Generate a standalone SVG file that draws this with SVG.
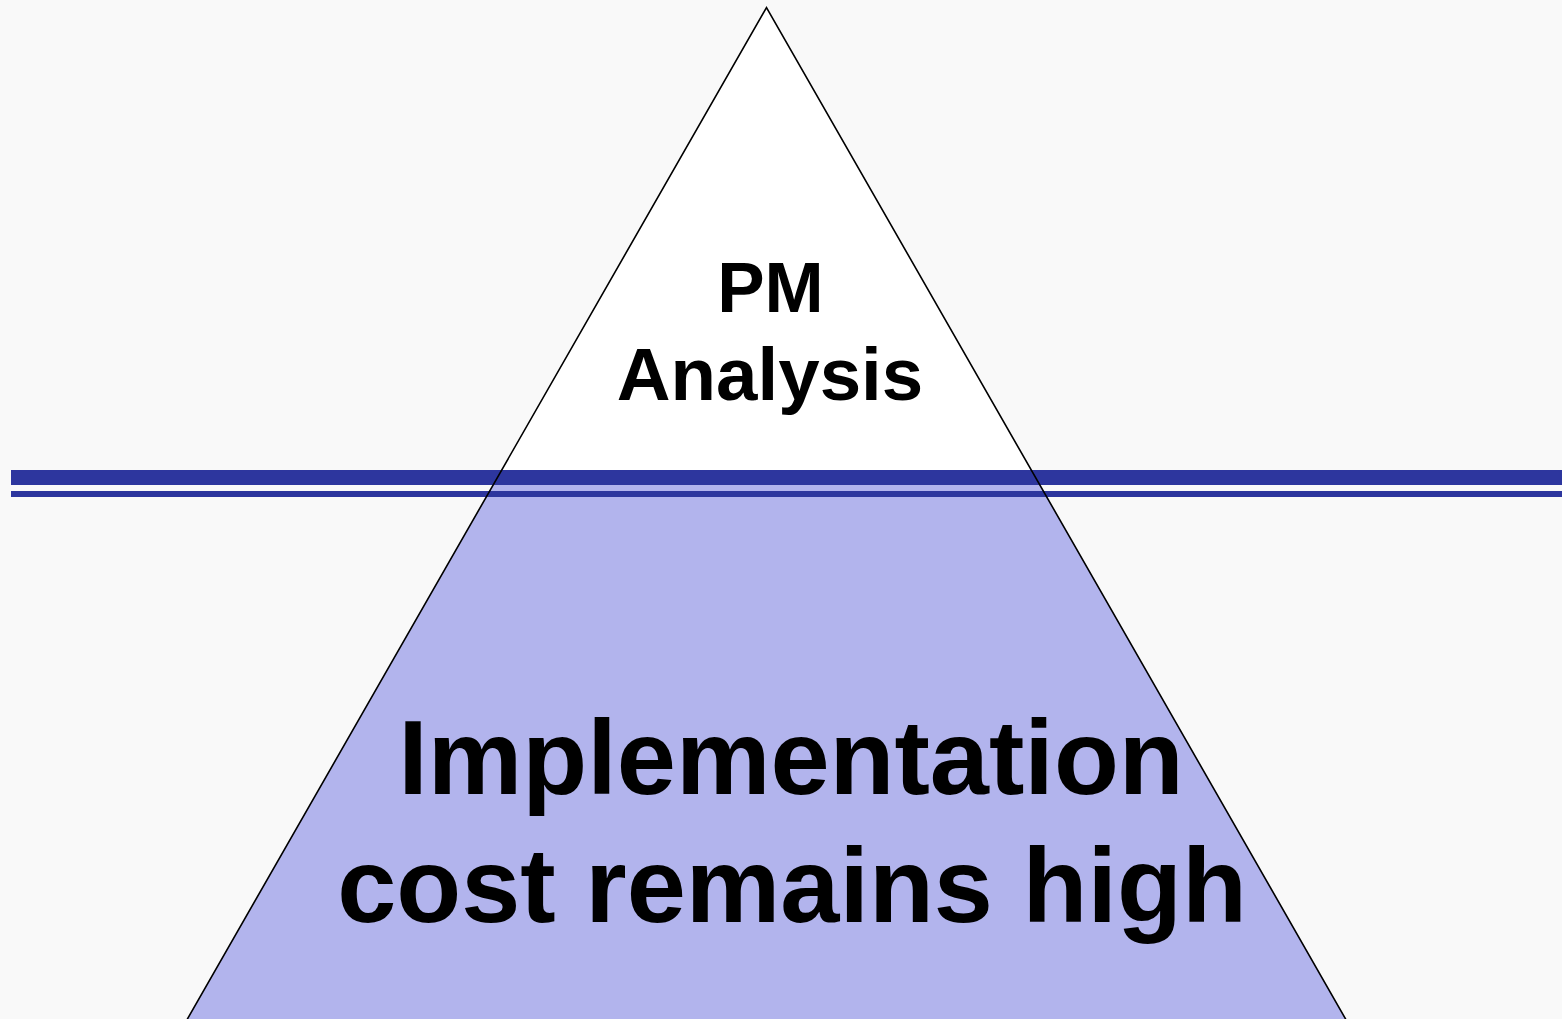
<svg xmlns="http://www.w3.org/2000/svg" width="1562" height="1019" viewBox="0 0 1562 1019">
  <style>
    .label { font-family: "Liberation Sans", Arial, sans-serif; font-weight: bold; fill: #000; text-anchor: middle; }
    .edge { fill: none; stroke: #000; stroke-width: 1.6; stroke-linejoin: miter; }
    .band { fill: #2d369e; }
  </style>
  <!-- page background -->
  <rect x="0" y="0" width="1562" height="1019" fill="#f9f9f9"/>

  <!-- pyramid: visible tip above the waterline -->
  <g id="tip">
    <polygon points="766.5,7.5 493.1,485 1039.9,485" fill="#ffffff"/>
    <text class="label" x="770.5" y="312" font-size="71">PM</text>
    <text class="label" x="770" y="400" font-size="74.5">Analysis</text>
  </g>

  <!-- pyramid: submerged base below the waterline -->
  <g id="base">
    <polygon points="493.1,485 1039.9,485 1351.9,1030 181.1,1030" fill="#b2b4ed"/>
    <text class="label" x="791" y="794" font-size="106.3">Implementation</text>
    <text class="label" x="792" y="922" font-size="106.3">cost remains high</text>
  </g>

  <!-- waterline bands -->
  <g id="waterline">
    <rect class="band" x="11" y="470" width="1551" height="15"/>
    <rect class="band" x="11" y="491" width="1551" height="6"/>
  </g>

  <!-- pyramid outline -->
  <g id="outline">
    <path class="edge" d="M181.1,1030 L766.5,7.5 L1351.9,1030"/>
  </g>
</svg>
